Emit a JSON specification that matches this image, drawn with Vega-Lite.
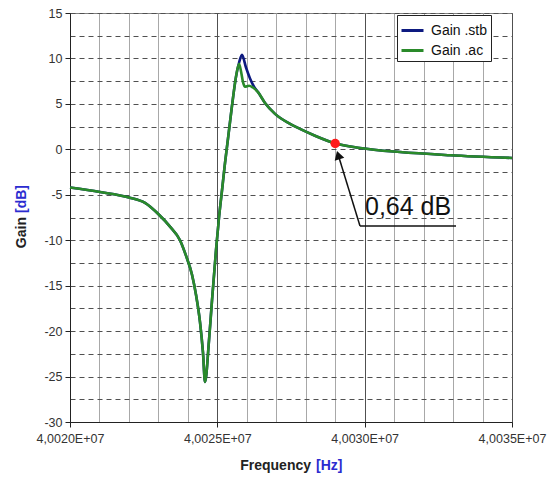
{
  "$schema": "https://vega.github.io/schema/vega-lite/v6.json",
  "width": 442,
  "height": 409,
  "autosize": {"type": "none"},
  "padding": {"left": 70, "top": 13, "right": 39, "bottom": 57},
  "background": "white",
  "config": {"view": {"stroke": "#808080", "strokeWidth": 1}, "font": "Liberation Sans"},
  "datasets": {
    "curve": [
      {"s": "Gain .stb", "f": 40020000, "g": -4.2},
      {"s": "Gain .stb", "f": 40021018, "g": -4.7},
      {"s": "Gain .stb", "f": 40022002, "g": -5.3},
      {"s": "Gain .stb", "f": 40022546, "g": -5.9},
      {"s": "Gain .stb", "f": 40023021, "g": -7.2},
      {"s": "Gain .stb", "f": 40023394, "g": -8.5},
      {"s": "Gain .stb", "f": 40023733, "g": -10.0},
      {"s": "Gain .stb", "f": 40023937, "g": -11.7},
      {"s": "Gain .stb", "f": 40024141, "g": -13.8},
      {"s": "Gain .stb", "f": 40024276, "g": -16.0},
      {"s": "Gain .stb", "f": 40024412, "g": -19.0},
      {"s": "Gain .stb", "f": 40024514, "g": -22.4},
      {"s": "Gain .stb", "f": 40024582, "g": -25.6},
      {"s": "Gain .stb", "f": 40024718, "g": -21.0},
      {"s": "Gain .stb", "f": 40024820, "g": -16.6},
      {"s": "Gain .stb", "f": 40024955, "g": -11.1},
      {"s": "Gain .stb", "f": 40025057, "g": -7.5},
      {"s": "Gain .stb", "f": 40025159, "g": -4.5},
      {"s": "Gain .stb", "f": 40025261, "g": -1.5},
      {"s": "Gain .stb", "f": 40025363, "g": 1.2},
      {"s": "Gain .stb", "f": 40025498, "g": 4.8},
      {"s": "Gain .stb", "f": 40025634, "g": 8.0},
      {"s": "Gain .stb", "f": 40025735, "g": 9.5},
      {"s": "Gain .stb", "f": 40025837, "g": 10.4},
      {"s": "Gain .stb", "f": 40025973, "g": 9.0},
      {"s": "Gain .stb", "f": 40026109, "g": 7.8},
      {"s": "Gain .stb", "f": 40026244, "g": 6.9},
      {"s": "Gain .stb", "f": 40026380, "g": 6.3},
      {"s": "Gain .stb", "f": 40026618, "g": 5.1},
      {"s": "Gain .stb", "f": 40026958, "g": 3.9},
      {"s": "Gain .stb", "f": 40027467, "g": 2.8},
      {"s": "Gain .stb", "f": 40027806, "g": 2.25},
      {"s": "Gain .stb", "f": 40028315, "g": 1.5},
      {"s": "Gain .stb", "f": 40028994, "g": 0.66},
      {"s": "Gain .stb", "f": 40029843, "g": 0.15},
      {"s": "Gain .stb", "f": 40031200, "g": -0.3},
      {"s": "Gain .stb", "f": 40032897, "g": -0.65},
      {"s": "Gain .stb", "f": 40035000, "g": -0.95},
      {"s": "Gain .ac", "f": 40020000, "g": -4.2},
      {"s": "Gain .ac", "f": 40021018, "g": -4.7},
      {"s": "Gain .ac", "f": 40022002, "g": -5.3},
      {"s": "Gain .ac", "f": 40022546, "g": -5.9},
      {"s": "Gain .ac", "f": 40023021, "g": -7.2},
      {"s": "Gain .ac", "f": 40023394, "g": -8.5},
      {"s": "Gain .ac", "f": 40023733, "g": -10.0},
      {"s": "Gain .ac", "f": 40023937, "g": -11.7},
      {"s": "Gain .ac", "f": 40024141, "g": -13.8},
      {"s": "Gain .ac", "f": 40024276, "g": -16.0},
      {"s": "Gain .ac", "f": 40024412, "g": -19.0},
      {"s": "Gain .ac", "f": 40024514, "g": -22.4},
      {"s": "Gain .ac", "f": 40024582, "g": -25.6},
      {"s": "Gain .ac", "f": 40024718, "g": -21.0},
      {"s": "Gain .ac", "f": 40024820, "g": -16.6},
      {"s": "Gain .ac", "f": 40024955, "g": -11.1},
      {"s": "Gain .ac", "f": 40025057, "g": -7.5},
      {"s": "Gain .ac", "f": 40025159, "g": -4.5},
      {"s": "Gain .ac", "f": 40025261, "g": -1.5},
      {"s": "Gain .ac", "f": 40025363, "g": 1.2},
      {"s": "Gain .ac", "f": 40025498, "g": 4.8},
      {"s": "Gain .ac", "f": 40025634, "g": 8.0},
      {"s": "Gain .ac", "f": 40025735, "g": 9.4},
      {"s": "Gain .ac", "f": 40025803, "g": 8.6},
      {"s": "Gain .ac", "f": 40025871, "g": 7.4},
      {"s": "Gain .ac", "f": 40025939, "g": 6.9},
      {"s": "Gain .ac", "f": 40026075, "g": 7.0},
      {"s": "Gain .ac", "f": 40026210, "g": 6.8},
      {"s": "Gain .ac", "f": 40026380, "g": 6.3},
      {"s": "Gain .ac", "f": 40026618, "g": 5.1},
      {"s": "Gain .ac", "f": 40026958, "g": 3.9},
      {"s": "Gain .ac", "f": 40027467, "g": 2.8},
      {"s": "Gain .ac", "f": 40027806, "g": 2.25},
      {"s": "Gain .ac", "f": 40028315, "g": 1.5},
      {"s": "Gain .ac", "f": 40028994, "g": 0.66},
      {"s": "Gain .ac", "f": 40029843, "g": 0.15},
      {"s": "Gain .ac", "f": 40031200, "g": -0.3},
      {"s": "Gain .ac", "f": 40032897, "g": -0.65},
      {"s": "Gain .ac", "f": 40035000, "g": -0.95}
    ],
    "marker": [{"f": 40029000, "g": 0.64}],
    "leader": [
      {"f": 40029842, "g": -8.43, "f2": 40033100, "g2": -8.43},
      {"f": 40029842, "g": -8.43, "f2": 40029103, "g2": -0.63}
    ],
    "arrowhead": [{"f": 40029103, "g": -0.63}],
    "label": [{"f": 40030012, "g": -7.22, "t": "0,64 dB"}],
    "xtitleBlack": [{"f": 40028180, "g": -34.84, "t": "Frequency"}],
    "xtitleBlue": [{"f": 40028349, "g": -34.84, "t": "[Hz]"}],
    "ytitleBlack": [{"f": 40018371, "g": -7.445, "t": "Gain"}],
    "ytitleBlue": [{"f": 40018371, "g": -7.005, "t": "[dB]"}]
  },
  "encoding": {
    "x": {
      "field": "f",
      "type": "quantitative",
      "scale": {"domain": [40020000, 40035000], "nice": false, "zero": false},
      "axis": {
        "title": null,
        "values": [40020000, 40021000, 40022000, 40023000, 40024000, 40025000, 40026000, 40027000, 40028000, 40029000, 40030000, 40031000, 40032000, 40033000, 40034000, 40035000],
        "labelExpr": "datum.value % 5000 === 0 ? replace(format(datum.value / 10000000, '.4f'), '.', ',') + 'E+07' : ''",
        "grid": true,
        "gridColor": {"condition": {"test": "datum.value % 5000 === 0", "value": "#505050"}, "value": "#a8a8a8"},
        "gridWidth": 1,
        "tickOpacity": {"condition": {"test": "datum.value % 5000 === 0", "value": 1}, "value": 0},
        "tickSize": 5,
        "tickColor": "#222222",
        "domainColor": "#222222",
        "labelFont": "Liberation Sans",
        "labelFontSize": 12.5,
        "labelColor": "#333333",
        "labelPadding": 5,
        "labelFlush": false,
        "labelOverlap": false
      }
    },
    "y": {
      "field": "g",
      "type": "quantitative",
      "scale": {"domain": [-30, 15], "nice": false, "zero": false},
      "axis": {
        "title": null,
        "values": [-30, -27.5, -25, -22.5, -20, -17.5, -15, -12.5, -10, -7.5, -5, -2.5, 0, 2.5, 5, 7.5, 10, 12.5, 15],
        "labelExpr": "datum.value % 5 === 0 ? '' + datum.value : ''",
        "grid": true,
        "gridDash": [5, 4],
        "gridColor": "#505050",
        "gridWidth": 1,
        "tickOpacity": {"condition": {"test": "datum.value % 5 === 0", "value": 1}, "value": 0},
        "tickSize": 5,
        "tickColor": "#222222",
        "domainColor": "#222222",
        "labelFont": "Liberation Sans",
        "labelFontSize": 12.5,
        "labelColor": "#333333",
        "labelPadding": 3,
        "labelOverlap": false
      }
    }
  },
  "layer": [
    {
      "data": {"name": "curve"},
      "mark": {"type": "line", "strokeWidth": 2.6, "interpolate": "monotone"},
      "encoding": {
        "color": {
          "field": "s",
          "type": "nominal",
          "sort": ["Gain .stb", "Gain .ac"],
          "scale": {"domain": ["Gain .stb", "Gain .ac"], "range": ["#0d1a80", "#2a8a2a"]},
          "legend": {
            "title": null,
            "orient": "none",
            "legendX": 327,
            "legendY": 2,
            "direction": "vertical",
            "symbolType": "stroke",
            "symbolSize": 484,
            "symbolStrokeWidth": 3,
            "labelFont": "Liberation Sans",
            "labelFontSize": 14,
            "labelColor": "#111111",
            "labelOffset": 6,
            "fillColor": "white",
            "strokeColor": "#222222",
            "padding": 3,
            "rowPadding": 0
          }
        }
      }
    },
    {
      "data": {"name": "leader"},
      "mark": {"type": "rule", "color": "#111111", "strokeWidth": 1.5},
      "encoding": {
        "x2": {"field": "f2"},
        "y2": {"field": "g2"}
      }
    },
    {
      "data": {"name": "arrowhead"},
      "mark": {"type": "point", "shape": "triangle-up", "filled": true, "color": "#111111", "opacity": 1, "size": 100, "angle": 343},
      "encoding": {}
    },
    {
      "data": {"name": "marker"},
      "mark": {"type": "circle", "color": "#ff1a1a", "opacity": 1, "size": 90},
      "encoding": {}
    },
    {
      "data": {"name": "label"},
      "mark": {"type": "text", "align": "left", "baseline": "alphabetic", "font": "Liberation Sans", "fontSize": 25, "color": "#111111"},
      "encoding": {"text": {"field": "t"}}
    },
    {
      "data": {"name": "xtitleBlack"},
      "mark": {"type": "text", "align": "right", "baseline": "middle", "font": "Liberation Sans", "fontSize": 14, "fontWeight": "bold", "color": "#222222"},
      "encoding": {"text": {"field": "t"}}
    },
    {
      "data": {"name": "xtitleBlue"},
      "mark": {"type": "text", "align": "left", "baseline": "middle", "font": "Liberation Sans", "fontSize": 14, "fontWeight": "bold", "color": "#2b2bd0"},
      "encoding": {"text": {"field": "t"}}
    },
    {
      "data": {"name": "ytitleBlack"},
      "mark": {"type": "text", "align": "right", "baseline": "middle", "angle": 270, "font": "Liberation Sans", "fontSize": 14, "fontWeight": "bold", "color": "#222222"},
      "encoding": {"text": {"field": "t"}}
    },
    {
      "data": {"name": "ytitleBlue"},
      "mark": {"type": "text", "align": "left", "baseline": "middle", "angle": 270, "font": "Liberation Sans", "fontSize": 14, "fontWeight": "bold", "color": "#2b2bd0"},
      "encoding": {"text": {"field": "t"}}
    }
  ]
}
